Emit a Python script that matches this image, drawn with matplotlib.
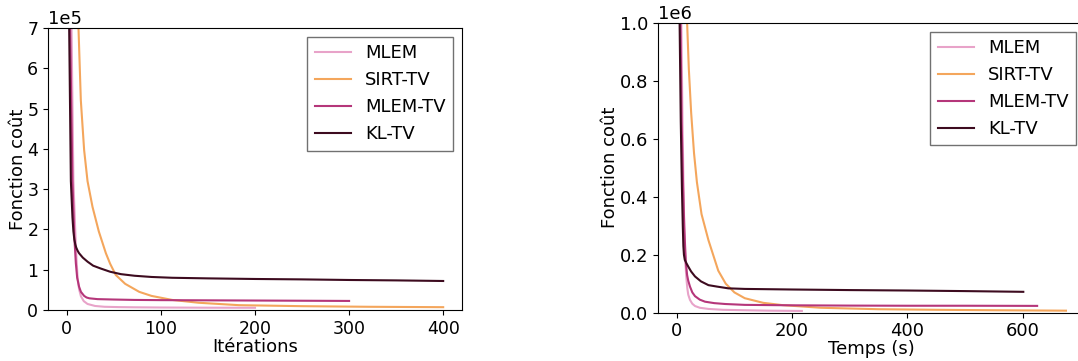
import matplotlib
matplotlib.use("Agg")
import matplotlib.pyplot as plt
import numpy as np

labels = ["MLEM", "SIRT-TV", "MLEM-TV", "KL-TV"]
colors = ["#e8a3c9", "#f4a65c", "#b5367a", "#3d0b1f"]

# ---- Left panel: cost vs iterations (values in units of 1e5) ----
it_mlem = [1, 5, 7, 9, 10.3, 11.5, 13, 15, 18, 22, 30, 40, 55, 72, 100, 150, 200]
v_mlem = [25, 7, 3.2, 1.95, 1.25, 0.8, 0.52, 0.34, 0.22, 0.15, 0.1, 0.08, 0.072, 0.067, 0.062, 0.057, 0.055]

it_sirt = [1, 6, 10, 12.4, 14.9, 18.4, 22, 27.3, 34, 41.5, 46, 52, 62, 77, 90, 112, 140, 183, 250, 320, 400]
v_sirt = [50, 15, 9, 7, 5.2, 3.97, 3.2, 2.56, 1.95, 1.41, 1.15, 0.87, 0.65, 0.45, 0.35, 0.25, 0.18, 0.12, 0.095, 0.08, 0.07]

it_mlemtv = [1, 3.5, 6, 8, 9.6, 11, 13, 15, 18.4, 21, 24, 32.6, 50, 72, 100, 150, 200, 250, 300]
v_mlemtv = [20, 7, 3.2, 1.8, 1.16, 0.8, 0.58, 0.45, 0.35, 0.31, 0.29, 0.27, 0.26, 0.25, 0.245, 0.24, 0.235, 0.23, 0.225]

it_kltv = [1, 2.5, 4.3, 6, 7, 8, 9, 10, 11.5, 13, 17, 22, 28, 36, 46, 57.5, 72, 90, 112, 150, 200, 250, 300, 350, 400]
v_kltv = [15, 7, 3.2, 2.3, 1.95, 1.75, 1.63, 1.55, 1.47, 1.41, 1.3, 1.2, 1.1, 1.03, 0.95, 0.89, 0.85, 0.82, 0.8, 0.785, 0.77, 0.76, 0.745, 0.735, 0.72]

# ---- Right panel: cost vs time in seconds (values in units of 1e5) ----
t_mlem = [1, 8, 10, 12, 13.5, 15, 17, 18.5, 20, 23, 27, 31.7, 40, 55, 80, 118, 160, 217]
w_mlem = [40, 10, 6.6, 4.0, 2.6, 1.7, 1.13, 0.82, 0.62, 0.44, 0.31, 0.23, 0.17, 0.13, 0.1, 0.085, 0.07, 0.06]

t_sirt = [5, 12, 18, 21, 25, 30, 35, 43, 55, 72, 85, 100, 118, 150, 184, 250, 350, 450, 550, 675]
w_sirt = [40, 16, 10, 8.4, 6.9, 5.5, 4.5, 3.4, 2.5, 1.45, 1.0, 0.7, 0.5, 0.34, 0.26, 0.17, 0.12, 0.1, 0.085, 0.07]

t_mlemtv = [1, 6.5, 8.5, 11, 13, 14.5, 16, 18, 20, 23, 27, 31.7, 40, 49, 65, 84, 118, 200, 300, 400, 500, 625]
w_mlemtv = [40, 10, 6.6, 4.4, 3.0, 2.3, 1.7, 1.3, 1.1, 0.9, 0.7, 0.57, 0.45, 0.38, 0.33, 0.30, 0.27, 0.255, 0.245, 0.24, 0.24, 0.235]

t_kltv = [1, 5, 7, 9, 10.5, 11.5, 12.5, 14, 17, 20, 25, 31.7, 42, 55, 70, 89.5, 118, 200, 300, 400, 500, 601]
w_kltv = [40, 10, 6.6, 4.3, 3.0, 2.3, 2.0, 1.82, 1.7, 1.59, 1.42, 1.25, 1.08, 0.95, 0.9, 0.84, 0.82, 0.80, 0.78, 0.765, 0.745, 0.72]

SCALE = 1e5

fig = plt.figure(figsize=(10.78, 3.61), dpi=100)

# Left axes
ax1 = fig.add_axes([48/1078, 1-310/361, (462-48)/1078, (310-28)/361])
left_x = [it_mlem, it_sirt, it_mlemtv, it_kltv]
left_y = [v_mlem, v_sirt, v_mlemtv, v_kltv]
for xs, ys, lab, c in zip(left_x, left_y, labels, colors):
    ax1.plot(xs, np.array(ys) * SCALE, color=c, lw=1.5, label=lab)
ax1.set_xlim(-20, 420)
ax1.set_ylim(0, 7e5)
ax1.set_xticks([0, 100, 200, 300, 400])
ax1.set_yticks(np.arange(0, 8) * 1e5)
ax1.ticklabel_format(axis='y', style='sci', scilimits=(0, 0))
ax1.tick_params(labelsize=12.5)
ax1.yaxis.get_offset_text().set_fontsize(13)
ax1.set_xlabel("Itérations", fontsize=13, labelpad=0)
ax1.set_ylabel("Fonction coût", fontsize=13, labelpad=0)
leg1 = ax1.legend(loc='upper right', fontsize=13, fancybox=False, edgecolor='0.3')
leg1.get_frame().set_linewidth(1.0)

# Right axes
ax2 = fig.add_axes([657.7/1078, 1-312.7/361, (1085-657.7)/1078, (312.7-22.7)/361])
right_x = [t_mlem, t_sirt, t_mlemtv, t_kltv]
right_y = [w_mlem, w_sirt, w_mlemtv, w_kltv]
for xs, ys, lab, c in zip(right_x, right_y, labels, colors):
    ax2.plot(xs, np.array(ys) * SCALE, color=c, lw=1.5, label=lab)
ax2.set_xlim(-33, 708)
ax2.set_ylim(0, 1e6)
ax2.set_xticks([0, 200, 400, 600])
ax2.set_yticks(np.arange(0, 1.01, 0.2) * 1e6)
ax2.ticklabel_format(axis='y', style='sci', scilimits=(0, 0))
ax2.tick_params(labelsize=13)
ax2.yaxis.get_offset_text().set_fontsize(13)
ax2.set_xlabel("Temps (s)", fontsize=13, labelpad=0)
ax2.set_ylabel("Fonction coût", fontsize=13, labelpad=0)
leg2 = ax2.legend(loc='upper right', fontsize=13, fancybox=False, edgecolor='0.3')
leg2.get_frame().set_linewidth(1.0)

fig.savefig("out.png", dpi=100)
